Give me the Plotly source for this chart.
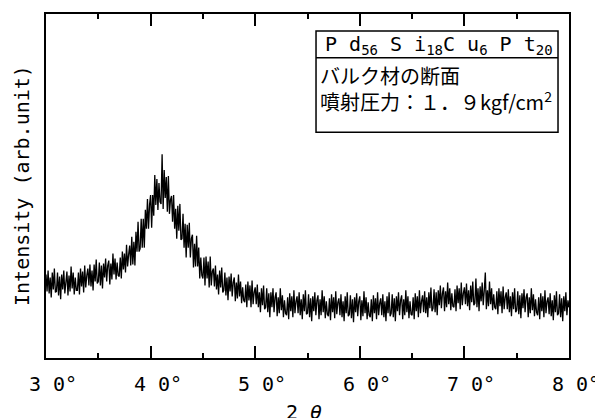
import plotly.graph_objects as go

# ---- data ----
two_theta_start = 30.0
two_theta_step = 0.1
intensity = [
    # 30
    84, 67, 88, 65, 81, 61, 86, 69, 90, 66,
    # 31
    67, 86, 63, 82, 59, 84, 69, 88, 65, 80,
    # 32
    87, 63, 83, 67, 92, 70, 86, 64, 81, 68,
    # 33
    68, 86, 64, 90, 72, 87, 66, 93, 71, 83,
    # 34
    90, 73, 94, 72, 88, 68, 94, 77, 99, 75,
    # 35
    77, 96, 73, 93, 70, 95, 81, 100, 77, 93,
    # 36
    98, 74, 95, 79, 105, 84, 100, 79, 96, 83,
    # 37
    82, 101, 80, 107, 89, 105, 86, 114, 92, 104,
    # 38
    113, 93, 122, 94, 117, 93, 127, 107, 137, 107,
    # 39
    110, 140, 111, 140, 111, 149, 130, 160, 130, 154,
    # 40
    164, 131, 164, 143, 184, 154, 180, 149, 176, 157,
    # 41
    155, 205, 150, 189, 161, 182, 147, 183, 145, 159,
    # 42
    163, 137, 164, 130, 150, 120, 153, 128, 155, 119,
    # 43
    120, 145, 111, 135, 101, 134, 111, 136, 101, 120,
    # 44
    124, 91, 115, 92, 123, 92, 111, 80, 101, 83,
    # 45
    80, 101, 73, 102, 80, 97, 71, 102, 73, 87,
    # 46
    90, 72, 93, 69, 84, 64, 88, 71, 91, 66,
    # 47
    68, 86, 63, 81, 58, 82, 67, 85, 62, 76,
    # 48
    81, 57, 76, 60, 84, 62, 77, 55, 71, 58,
    # 49
    56, 74, 51, 77, 58, 73, 51, 78, 54, 66,
    # 50
    71, 54, 74, 51, 66, 46, 70, 53, 73, 49,
    # 51
    51, 70, 46, 65, 41, 66, 51, 70, 46, 61,
    # 52
    66, 42, 61, 45, 70, 48, 63, 41, 58, 45,
    # 53
    43, 61, 39, 65, 47, 62, 41, 68, 45, 57,
    # 54
    62, 45, 66, 43, 59, 39, 64, 47, 68, 44,
    # 55
    45, 64, 41, 60, 37, 62, 47, 66, 43, 58,
    # 56
    63, 39, 59, 43, 68, 46, 62, 40, 57, 44,
    # 57
    42, 60, 38, 64, 46, 61, 40, 67, 44, 56,
    # 58
    60, 43, 64, 41, 57, 37, 62, 45, 66, 42,
    # 59
    44, 63, 40, 59, 36, 61, 46, 65, 42, 57,
    # 60
    62, 38, 58, 42, 67, 45, 61, 39, 56, 43,
    # 61
    41, 59, 37, 63, 45, 60, 39, 66, 43, 55,
    # 62
    60, 43, 64, 41, 57, 37, 62, 45, 66, 42,
    # 63
    45, 64, 41, 60, 37, 62, 47, 66, 43, 58,
    # 64
    63, 39, 59, 43, 68, 46, 62, 40, 57, 44,
    # 65
    43, 61, 39, 65, 47, 62, 41, 68, 45, 57,
    # 66
    63, 46, 67, 45, 61, 41, 66, 50, 71, 47,
    # 67
    50, 69, 46, 66, 43, 68, 53, 73, 50, 65,
    # 68
    71, 47, 67, 51, 76, 54, 70, 48, 65, 52,
    # 69
    51, 69, 47, 73, 55, 70, 49, 76, 53, 65,
    # 70
    71, 54, 75, 52, 68, 48, 73, 56, 77, 53,
    # 71
    55, 80, 51, 70, 47, 72, 57, 76, 53, 68,
    # 72
    86, 49, 68, 52, 77, 54, 70, 48, 64, 51,
    # 73
    49, 67, 44, 70, 52, 67, 45, 72, 49, 61,
    # 74
    66, 49, 69, 46, 62, 42, 66, 49, 70, 46,
    # 75
    48, 67, 44, 63, 40, 65, 50, 69, 46, 61,
    # 76
    65, 41, 61, 45, 70, 48, 64, 42, 59, 46,
    # 77
    43, 61, 39, 65, 47, 62, 41, 68, 45, 57,
    # 78
    61, 44, 65, 42, 58, 38, 63, 46, 67, 43,
    # 79
    45, 64, 41, 60, 37, 62, 47, 66, 43, 58,
    # 80
    51,
]
tick_values = [30, 40, 50, 60, 70, 80]
minor_tick_values = [35, 45, 55, 65, 75]
tick_labels = ["3 0°", "4 0°", "5 0°", "6 0°", "7 0°", "8 0°"]
x_title = "2 <i>θ</i>"
y_title = "Intensity (arb.unit)"
legend_title = "P d<sub>56</sub> S i<sub>18</sub>C u<sub>6</sub> P t<sub>20</sub>"
legend_lines = ["バルク材の断面", "噴射圧力：１．９kgf/cm<sup>2</sup>"]

two_theta = [two_theta_start + two_theta_step * i for i in range(len(intensity))]

JP = "Noto Sans CJK JP"
MONO = "DejaVu Sans Mono"

fig = go.Figure()
fig.add_trace(go.Scatter(x=two_theta, y=intensity, mode="lines",
                         line=dict(color="black", width=1.3), showlegend=False,
                         hoverinfo="skip"))

axis_common = dict(showline=True, linecolor="black", linewidth=1.5, mirror="ticks",
                   showgrid=False, zeroline=False, showticklabels=False)
fig.update_xaxes(range=[30, 80], tickvals=tick_values, ticks="inside", ticklen=12,
                 tickwidth=1.5, tickcolor="black",
                 minor=dict(ticks="inside", ticklen=5, tickwidth=1.5, tickcolor="black",
                            tickvals=minor_tick_values),
                 **axis_common)
fig.update_yaxes(range=[0, 346], ticks="", **axis_common)

annotations = []
for v, t in zip(tick_values, tick_labels):
    annotations.append(dict(x=v, y=0, xref="x", yref="paper", text=t, showarrow=False,
                            xanchor="center", yanchor="middle", xshift=7, yshift=-26,
                            font=dict(family=MONO, size=20, color="black")))
annotations.append(dict(x=0.4933, y=0, xref="paper", yref="paper", text=x_title,
                        showarrow=False, xanchor="center", yanchor="top", yshift=-40,
                        font=dict(family=MONO, size=20, color="black")))
annotations.append(dict(x=-0.0459, y=0.503, xref="paper", yref="paper", text=y_title,
                        showarrow=False, textangle=-90, xanchor="center", yanchor="middle",
                        font=dict(family=MONO, size=20, color="black")))
annotations.append(dict(x=0.5296, y=0.9104, xref="paper", yref="paper", text=legend_title,
                        showarrow=False, xanchor="left", yanchor="middle",
                        font=dict(family=MONO, size=20, color="black")))
annotations.append(dict(x=0.5201, y=0.7832, xref="paper", yref="paper",
                        text="<br>".join(legend_lines), align="left",
                        showarrow=False, xanchor="left", yanchor="middle",
                        font=dict(family=JP, size=20, color="black")))

shapes = [
    dict(type="rect", xref="paper", yref="paper", x0=0.5163, x1=0.979, y0=0.656, y1=0.9509,
         line=dict(color="black", width=1.5)),
    dict(type="line", xref="paper", yref="paper", x0=0.5163, x1=0.979, y0=0.8728, y1=0.8728,
         line=dict(color="black", width=1.5)),
]

fig.update_layout(width=595, height=418, margin=dict(l=46, r=26, t=12, b=60),
                  paper_bgcolor="white", plot_bgcolor="white",
                  annotations=annotations, shapes=shapes)

fig.write_html("out.html", config={"displayModeBar": False},
               post_script="document.body.style.margin='0';document.body.style.overflow='hidden';")
